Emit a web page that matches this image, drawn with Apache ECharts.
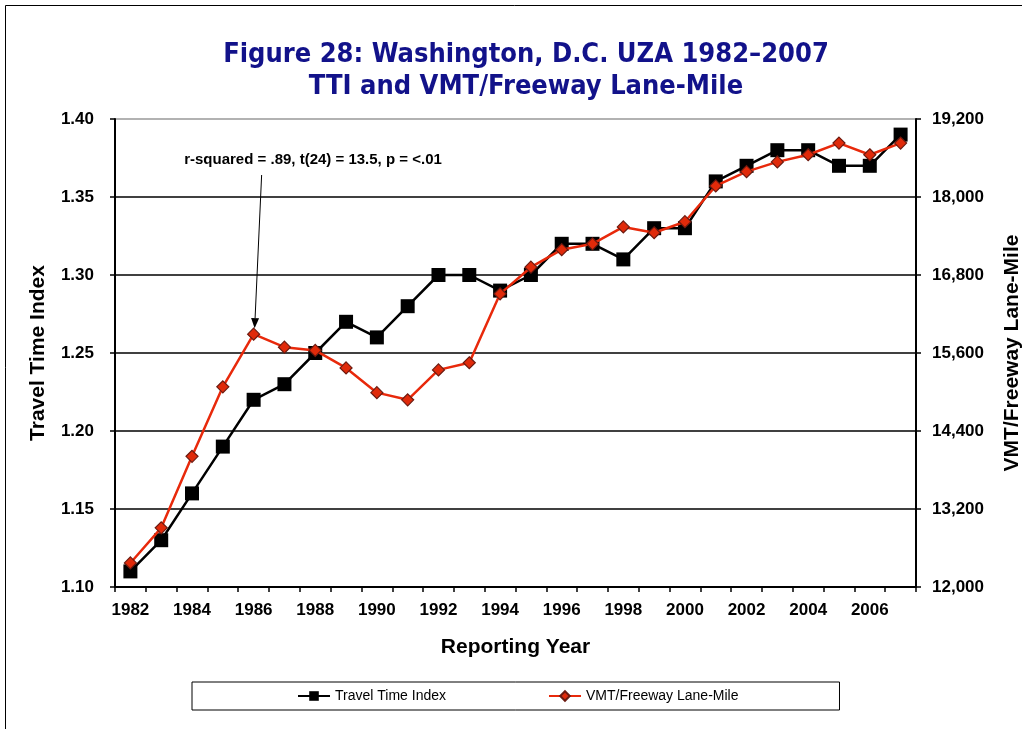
<!DOCTYPE html>
<html>
<head>
<meta charset="utf-8">
<script src="https://cdn.jsdelivr.net/npm/echarts@6/dist/echarts.min.js"></script>
<style>
  html, body { margin: 0; padding: 0; background: #fff; }
  #chart { width: 1022px; height: 729px; }
</style>
</head>
<body>
<div id="chart"></div>
<script>
// Reporting years on the category axis
const years = ['1982','1983','1984','1985','1986','1987','1988','1989','1990','1991','1992','1993','1994',
               '1995','1996','1997','1998','1999','2000','2001','2002','2003','2004','2005','2006','2007'];

// Travel Time Index (left axis)
const tti = [1.11, 1.13, 1.16, 1.19, 1.22, 1.23, 1.25, 1.27, 1.26, 1.28, 1.30, 1.30, 1.29,
             1.30, 1.32, 1.32, 1.31, 1.33, 1.33, 1.36, 1.37, 1.38, 1.38, 1.37, 1.37, 1.39];

// VMT per freeway lane-mile (right axis)
const vmt = [12370, 12910, 14010, 15080, 15890, 15690, 15640, 15370, 14990, 14880, 15340, 15450, 16510,
             16920, 17190, 17280, 17540, 17450, 17620, 18170, 18390, 18540, 18650, 18830, 18650, 18830];

const annotationText = 'r-squared = .89, t(24) = 13.5, p = <.01';

const chart = echarts.init(document.getElementById('chart'), null, { renderer: 'canvas' });

const tickFont = { color: '#000', fontFamily: 'Liberation Sans, Arial', fontWeight: 'bold', fontSize: 17 };
const nameFont = { color: '#000', fontFamily: 'Liberation Sans, Arial', fontWeight: 'bold', fontSize: 21 };

chart.setOption({
  animation: false,
  backgroundColor: '#fff',
  title: {
    text: 'Figure 28: Washington, D.C. UZA 1982\u20132007\nTTI and VMT/Freeway Lane-Mile',
    left: 521,
    top: 34,
    textAlign: 'center',
    textStyle: {
      color: '#12128a',
      fontFamily: 'DejaVu Sans Condensed',
      fontWeight: 'bold',
      fontSize: 27,
      lineHeight: 32
    }
  },
  legend: {
    left: 192,
    top: 682,
    padding: [7, 101, 7, 105],
    itemGap: 102,
    itemWidth: 32,
    itemHeight: 12,
    borderColor: '#000',
    borderWidth: 1,
    textStyle: { color: '#000', fontFamily: 'Liberation Sans, Arial', fontSize: 14 },
    data: ['Travel Time Index', 'VMT/Freeway Lane-Mile']
  },
  grid: { left: 115, right: 106, top: 119, bottom: 142, outerBoundsMode: 'none' },
  xAxis: {
    type: 'category',
    data: years,
    boundaryGap: true,
    name: 'Reporting Year',
    nameLocation: 'middle',
    nameGap: 50,
    nameTextStyle: nameFont,
    axisLine: { lineStyle: { color: '#000', width: 2 } },
    axisTick: { show: true, interval: 0, length: 5, lineStyle: { color: '#000', width: 1.5 } },
    axisLabel: Object.assign({ interval: 1, margin: 15 }, tickFont),
    splitLine: { show: false }
  },
  yAxis: [
    {
      type: 'value',
      min: 1.10,
      max: 1.40,
      interval: 0.05,
      name: 'Travel Time Index',
      nameLocation: 'middle',
      nameRotate: 90,
      nameGap: 66,
      nameTextStyle: nameFont,
      axisLine: { show: true, lineStyle: { color: '#000', width: 2 } },
      axisTick: { show: true, length: 5, lineStyle: { color: '#000', width: 1.5 } },
      axisLabel: Object.assign({ margin: 21, formatter: v => v.toFixed(2) }, tickFont),
      splitLine: {
        show: true,
        lineStyle: { color: ['#000', '#000', '#000', '#000', '#000', '#000', '#999'], width: 1.5 }
      }
    },
    {
      type: 'value',
      position: 'right',
      min: 12000,
      max: 19200,
      interval: 1200,
      name: 'VMT/Freeway Lane-Mile',
      nameLocation: 'middle',
      nameRotate: 90,
      nameGap: 86,
      nameTextStyle: nameFont,
      axisLine: { show: true, lineStyle: { color: '#000', width: 2 } },
      axisTick: { show: true, length: 5, lineStyle: { color: '#000', width: 1.5 } },
      axisLabel: Object.assign({ margin: 16, formatter: v => v.toLocaleString('en-US') }, tickFont),
      splitLine: { show: false }
    }
  ],
  series: [
    {
      name: 'Travel Time Index',
      type: 'line',
      yAxisIndex: 0,
      data: tti,
      symbol: 'rect',
      symbolSize: 14,
      showAllSymbol: true,
      lineStyle: { color: '#000', width: 2.5 },
      itemStyle: { color: '#000', borderColor: '#000', borderWidth: 0 },
      z: 2
    },
    {
      name: 'VMT/Freeway Lane-Mile',
      type: 'line',
      yAxisIndex: 1,
      data: vmt,
      symbol: 'diamond',
      symbolSize: 12,
      showAllSymbol: true,
      lineStyle: { color: '#e8290b', width: 2.5 },
      itemStyle: { color: '#e02a0a', borderColor: '#6b1a10', borderWidth: 1.2 },
      z: 3
    }
  ]
});

// Annotation: statistic text with an arrow pointing down to the 1986 VMT point
const target = chart.convertToPixel({ xAxisIndex: 0, yAxisIndex: 1 }, [years[4], vmt[4]]);
const textX = 313, textY = 160;
const startX = target[0] + 8, startY = 175;
const tipX = target[0] + 1, tipY = target[1] - 6;
const ang = Math.atan2(tipY - startY, tipX - startX);
const ah = 10, aw = 4;
const bx = tipX - ah * Math.cos(ang), by = tipY - ah * Math.sin(ang);
const px = -Math.sin(ang) * aw, py = Math.cos(ang) * aw;

chart.setOption({
  graphic: [
    {
      type: 'rect',
      silent: true,
      shape: { x: 5.5, y: 5.5, width: 1100, height: 1000 },
      style: { fill: 'none', stroke: '#000', lineWidth: 1 },
      z: 0
    },
    {
      type: 'text',
      silent: true,
      x: textX,
      y: textY,
      style: {
        text: annotationText,
        fill: '#000',
        font: 'bold 15px "Liberation Sans", Arial',
        textAlign: 'center',
        textVerticalAlign: 'middle'
      },
      z: 10
    },
    {
      type: 'line',
      silent: true,
      shape: { x1: startX, y1: startY, x2: bx, y2: by },
      style: { stroke: '#000', lineWidth: 1 },
      z: 10
    },
    {
      type: 'polygon',
      silent: true,
      shape: { points: [[tipX, tipY], [bx + px, by + py], [bx - px, by - py]] },
      style: { fill: '#000' },
      z: 10
    }
  ]
});
</script>
</body>
</html>
